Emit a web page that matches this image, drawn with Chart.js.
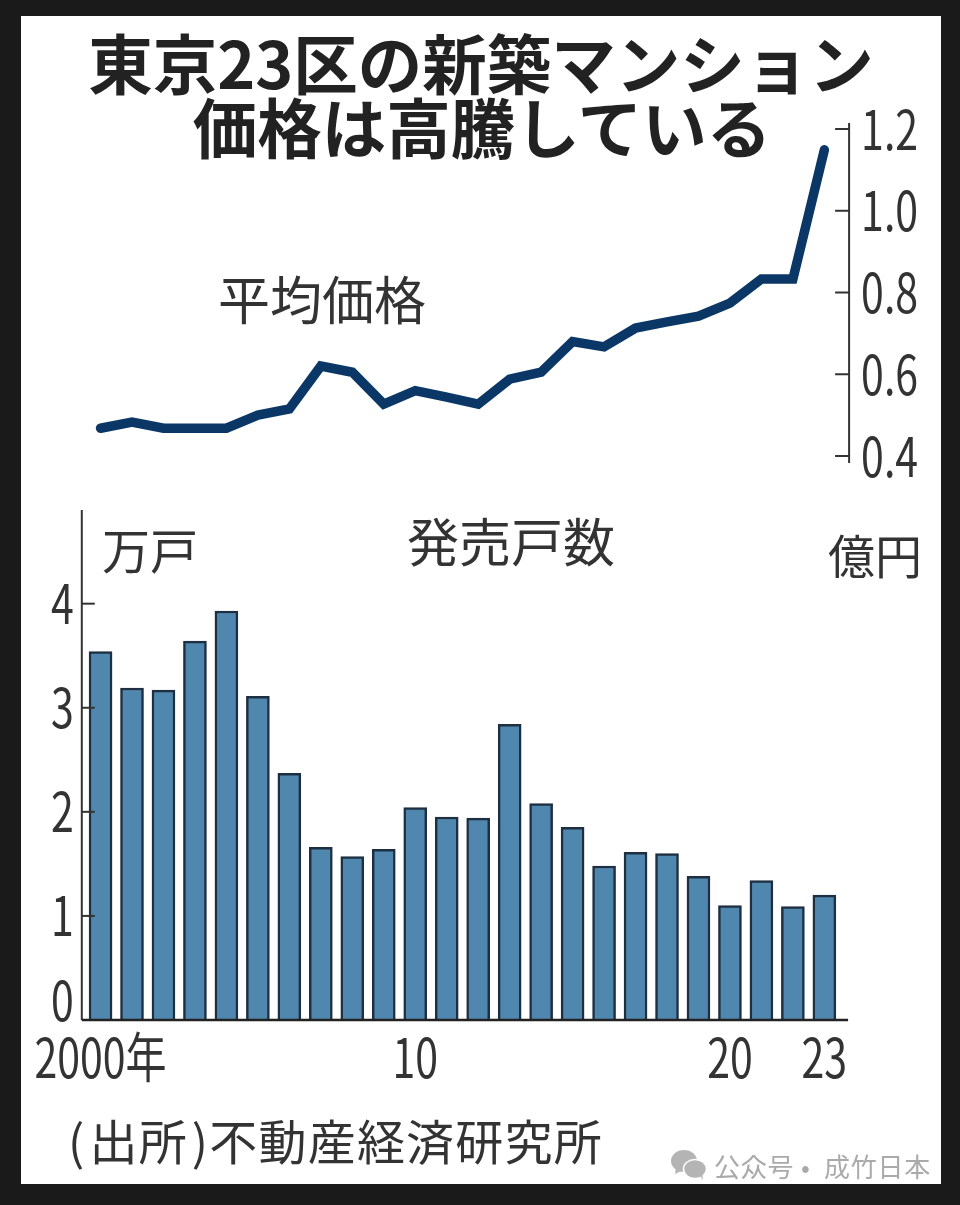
<!DOCTYPE html>
<html lang="ja"><head><meta charset="utf-8">
<script src="https://cdn.jsdelivr.net/npm/chart.js@4"></script>
<style>
html,body{margin:0;padding:0;background:#1a1a1a;overflow:hidden}
#stage{position:relative;width:960px;height:1205px;background:#1a1a1a;overflow:hidden}
#panel{position:absolute;left:21px;top:16px;width:920px;height:1168px;background:#fff}
canvas{position:absolute;left:0}
.t{position:absolute;white-space:pre;line-height:1;font-family:"Noto Sans CJK JP";color:#333;font-weight:400}
.title{font-weight:700;font-size:64.5px;color:#222;width:960px;text-align:center;left:0}
</style></head><body>
<div id="stage">
<div id="panel"></div>
<canvas id="lineC" width="960" height="500" style="top:0"></canvas>
<canvas id="barC" width="960" height="705" style="top:500px"></canvas>
<div class="t title" style="top:29px;left:1px">東京23区の新築マンション</div>
<div class="t title" style="top:93px;left:2px">価格は高騰している</div>
<div class="t" style="left:218px;top:272px;font-size:52px">平均価格</div>
<div class="t" style="left:407px;top:514px;font-size:52px">発売戸数</div>
<div class="t" style="left:102px;top:524px;font-size:48px">万戸</div>
<div class="t" style="left:828px;top:530px;font-size:47px">億円</div>
<div class="t" style="left:68px;top:1115px;font-size:48px;letter-spacing:1.2px">(<span style="margin-left:4px">出所</span><span style="margin-left:4px">)</span>不動産経済研究所</div>
<svg style="position:absolute;left:670px;top:1149px" width="38" height="32" viewBox="0 0 38 32">
<ellipse cx="14" cy="12" rx="13" ry="11" fill="#b4b4b4"/><path d="M6 19l-1 6 6-3z" fill="#b4b4b4"/>
<ellipse cx="25" cy="20" rx="11.5" ry="9.5" fill="#b4b4b4" stroke="#fff" stroke-width="1.5"/><path d="M30 27l3 4-1-6z" fill="#b4b4b4"/>
</svg>
<div class="t" style="left:714px;top:1153px;font-size:26px;letter-spacing:0.8px;color:#aaa;font-family:'Noto Sans CJK SC'">公众号 ·  成竹日本</div>
</div>
<script>
const years = [2000,2001,2002,2003,2004,2005,2006,2007,2008,2009,2010,2011,2012,2013,2014,2015,2016,2017,2018,2019,2020,2021,2022,2023];
const avgPrice = [0.468,0.483,0.468,0.468,0.468,0.50,0.515,0.62,0.605,0.527,0.56,0.544,0.527,0.588,0.605,0.68,0.667,0.713,0.728,0.742,0.774,0.833,0.833,1.149];
const unitsSold = [3.54,3.19,3.17,3.64,3.93,3.11,2.37,1.66,1.57,1.64,2.04,1.95,1.94,2.84,2.08,1.85,1.48,1.61,1.60,1.38,1.10,1.34,1.09,1.20];
const priceTicks = [0.4,0.6,0.8,1.0,1.2];
const unitTicks = [0,1,2,3,4];
const yearLabels = {2000:'2000年',2010:'10',2020:'20',2023:'23'};

Chart.defaults.animation = false;
const tickFont = {family:'"Noto Sans CJK JP"',size:54,lineHeight:0.74};
const ink = '#333';
const setTicks = vals => s => { s.ticks = vals.map(v => ({value:v})); };
const noPad = s => { s.paddingTop=0; s.paddingBottom=0; s.paddingLeft=0; s.paddingRight=0; };
function line(c,x1,y1,x2,y2,w,col){c.save();c.strokeStyle=col||ink;c.lineWidth=w||2;c.beginPath();c.moveTo(x1,y1);c.lineTo(x2,y2);c.stroke();c.restore();}
// The reference uses a condensed numeral face: tick labels are squeezed horizontally around their anchor.
const condense = {id:'condense',beforeDraw(ch){
  const c=ch.ctx; if(c.__squeezed) return; c.__squeezed=true;
  const fill=c.fillText.bind(c);
  c.fillText=(t,x,y,m)=>{c.save();c.translate(x,y);c.scale(0.76,1);fill(t,0,0);c.restore();};
}};

new Chart(document.getElementById('lineC'),{
  type:'line',
  data:{labels:years,datasets:[{data:avgPrice,borderColor:'#0b3766',borderWidth:9.5,pointRadius:0,tension:0,borderCapStyle:'round',borderJoinStyle:'miter'}]},
  options:{responsive:false,devicePixelRatio:1,
    layout:{padding:{left:84.8,top:123,bottom:37,right:0}},
    plugins:{legend:{display:false},tooltip:{enabled:false}},
    scales:{
      x:{offset:true,display:false,grid:{display:false}},
      y:{position:'right',min:0.3829,max:1.2147,afterBuildTicks:setTicks(priceTicks),
        afterFit:s=>{s.width=119.9;noPad(s);},
        border:{display:false},grid:{display:false,drawTicks:false},
        ticks:{color:ink,font:tickFont,padding:21,callback:v=>Number(v).toFixed(1)}}
    }},
  plugins:[condense,{id:'rightAxis',afterDraw(ch){
    const c=ch.ctx,y=ch.scales.y,a=ch.chartArea,ax=a.right+9;
    line(c,ax,a.top,ax,a.bottom,2);
    priceTicks.forEach(v=>{const p=y.getPixelForValue(v);line(c,ax-14,p,ax,p,2);});
  }}]
});

new Chart(document.getElementById('barC'),{
  type:'bar',
  data:{labels:years,datasets:[{data:unitsSold,backgroundColor:'#4f87ae',borderColor:'#1d2f40',borderWidth:2.5,barThickness:23}]},
  options:{responsive:false,devicePixelRatio:1,
    layout:{padding:{left:0,top:10,bottom:0,right:119.9}},
    plugins:{legend:{display:false},tooltip:{enabled:false}},
    scales:{
      x:{offset:true,afterFit:s=>{s.height=185;noPad(s);},
        border:{display:false},grid:{display:false,drawTicks:false},
        ticks:{color:ink,font:tickFont,padding:18,autoSkip:false,maxRotation:0,callback:function(v){return yearLabels[this.getLabelForValue(v)]||'';}}},
      y:{min:0,max:4.9,afterBuildTicks:setTicks(unitTicks),
        afterFit:s=>{s.width=84.8;noPad(s);},
        border:{display:false},grid:{display:false,drawTicks:false},
        ticks:{color:ink,font:tickFont,padding:11,callback:v=>v===0?['0','']:String(v)}}
    }},
  plugins:[condense,{id:'leftAxis',afterDraw(ch){
    const c=ch.ctx,y=ch.scales.y,a=ch.chartArea,ax=a.left-3;
    line(c,ax,a.top,ax,a.bottom,2);
    unitTicks.forEach(v=>{if(v>0){const p=y.getPixelForValue(v);line(c,ax,p,ax+13,p,2);}});
    line(c,ax,a.bottom,a.right+8,a.bottom,2.5,'#222');
  }}]
});
</script>
</body></html>
